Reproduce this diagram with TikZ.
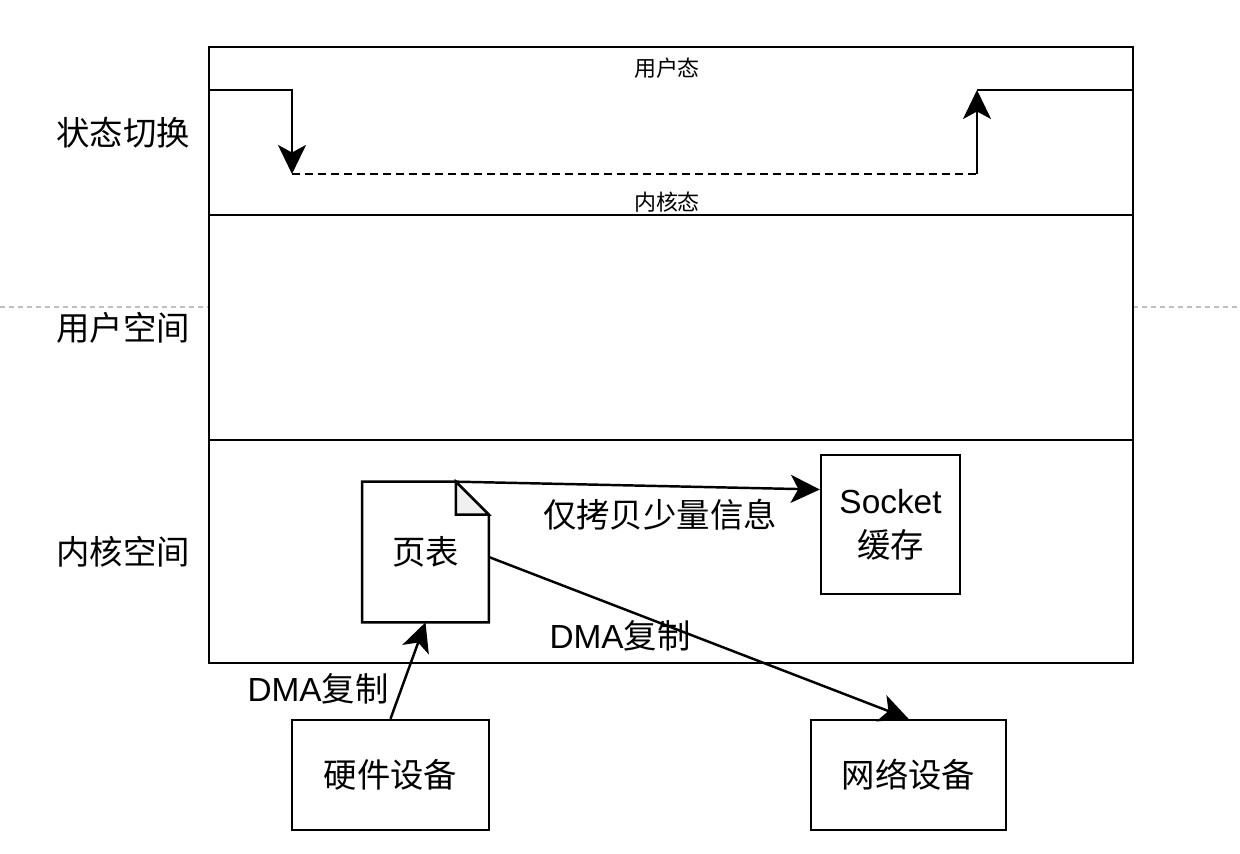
\documentclass[tikz,border=0pt]{standalone}
\usepackage{fontspec}
\setmainfont{Liberation Sans}
\newfontfamily\cjk{Noto Sans CJK SC}
\usetikzlibrary{arrows.meta}

\tikzset{
  box/.style={draw,line width=1.4pt,align=center,font=\fontsize{19}{25}\selectfont},
  arr/.style={line width=1.4pt,-{Stealth[length=0.58cm,width=0.56cm,inset=0.15cm]}},
  lbl/.style={font=\fontsize{19}{23}\selectfont},
  small/.style={font=\fontsize{12.5}{15}\selectfont\cjk}
}

\begin{document}
\begin{tikzpicture}[x=0.02cm,y=-0.02cm]
\useasboundingbox (0,0) rectangle (1240,854);
\coordinate (TL) at (209,47);
\coordinate (BR) at (1133,663);
\coordinate (S1) at (209,215);
\coordinate (S2) at (209,440);
\coordinate (P) at (292,90);
\coordinate (Q) at (292,174);
\coordinate (R) at (977,174);
\coordinate (U) at (977,90);
\draw[gray!50,line width=0.8pt,dash pattern=on 0.1cm off 0.08cm] (0,307)--(209,307) (1133,307)--(1240,307);
\draw[line width=1.4pt] (TL) rectangle (BR) (S1)--(1133,215) (S2)--(1133,440);
% state switch
\draw[arr] (209,90)--(P)--(Q);
\draw[line width=1.5pt,dash pattern=on 0.16cm off 0.1cm] (Q)--(R);
\draw[arr] (R)--(U);
\draw[line width=1.4pt] (U)--(1133,90);
\node[small] (ustate) at (667,68) {用户态};
\node[small] (kstate) at (667,202) {内核态};
\node[lbl] (switch) at (123,133) {\cjk 状态切换};
\node[lbl] (uspace) at (123,328) {\cjk 用户空间};
\node[lbl] (kspace) at (123,552) {\cjk 内核空间};
% nodes
\node[lbl,minimum width=2.52cm,minimum height=2.8cm] (page) at (425.5,552) {\cjk 页表};
\draw[line width=1.4pt] (page.south west)--(page.north west)--([xshift=-0.66cm]page.north east)
  --([yshift=-0.66cm]page.north east)--(page.south east)--cycle;
\draw[line width=1.4pt,fill=gray!12] ([xshift=-0.66cm]page.north east)--([xshift=-0.66cm,yshift=-0.66cm]page.north east)
  --([yshift=-0.66cm]page.north east)--cycle;
\node[box,minimum width=2.78cm,minimum height=2.78cm] (socket) at (890.5,524.5) {Socket\\\cjk 缓存};
\node[box,minimum width=3.94cm,minimum height=2.2cm] (hw) at (390.5,775) {\cjk 硬件设备};
\node[box,minimum width=3.9cm,minimum height=2.2cm] (net) at (908.5,775) {\cjk 网络设备};
% copies
\draw[arr] ([xshift=-0.66cm]page.north east)--([yshift=0.7cm]socket.west);
\draw[arr] ([yshift=-0.1cm]page.east)--(net.north);
\draw[arr] (hw.north)--(page.south);
\node[lbl] (copyinfo) at (660,515) {\cjk 仅拷贝少量信息};
\node[lbl] (dma1) at (620,636) {DMA{\cjk 复制}};
\node[lbl] (dma2) at (318,689) {DMA{\cjk 复制}};
\end{tikzpicture}
\end{document}
